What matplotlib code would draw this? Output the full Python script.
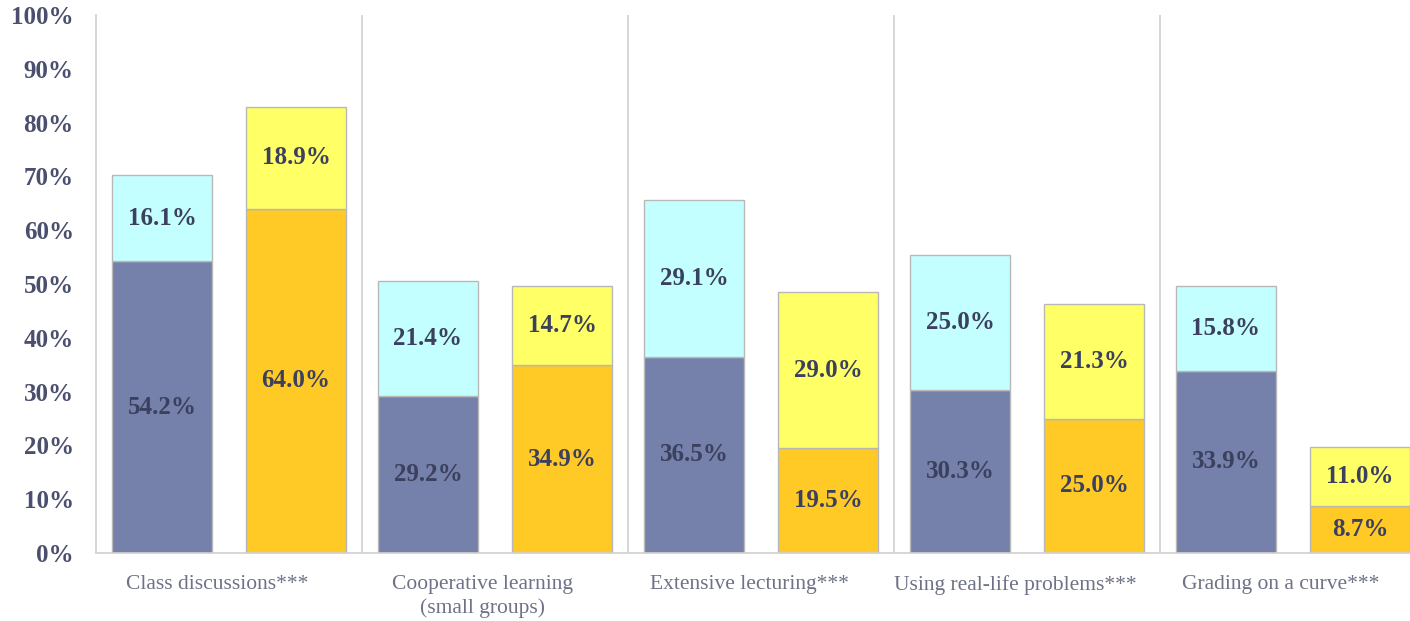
import numpy as np
import matplotlib
matplotlib.use("Agg")
import matplotlib.pyplot as plt
import matplotlib.transforms as mtransforms

# Survey categories and stacked shares (percent)
categories = ["Class discussions***", "Cooperative learning\n(small groups)",
              "Extensive lecturing***", "Using real-life problems***",
              "Grading on a curve***"]
a_base = [54.2, 29.2, 36.5, 30.3, 33.9]
a_top = [16.1, 21.4, 29.1, 25.0, 15.8]
b_base = [64.0, 34.9, 19.5, 25.0, 8.7]
b_top = [18.9, 14.7, 29.0, 21.3, 11.0]

serif = ["Liberation Serif", "DejaVu Serif"]
label_col = "#3b405e"

fig = plt.figure(figsize=(14.1, 6.21), dpi=100)
ax = fig.add_axes([96 / 1410, 68 / 621, 1330 / 1410, 538 / 621])

x = np.arange(len(categories))
w = 0.376
off = 0.252
edge = dict(edgecolor="#b8b8b8", linewidth=1)

ax.bar(x - off, a_base, w, color="#7580ab", **edge)
ax.bar(x - off, a_top, w, bottom=a_base, color="#c4ffff", **edge)
ax.bar(x + off, b_base, w, color="#ffc926", **edge)
ax.bar(x + off, b_top, w, bottom=b_base, color="#ffff66", **edge)

def put(xs, bottoms, vals):
    for xi, b, v in zip(xs, bottoms, vals):
        ax.text(xi, b + v / 2, f"{v:.1f}%", ha="center", va="center",
                fontsize=18, fontweight="bold", color=label_col, family=serif)

put(x - off, [0] * 5, a_base)
put(x - off, a_base, a_top)
put(x + off, [0] * 5, b_base)
put(x + off, b_base, b_top)

# group separators
for s in x[:-1] + 0.5:
    ax.plot([s, s], [0, 100], color="#d0d0d0", lw=1.2, zorder=0)

ax.set_xlim(-0.5, 4.5)
ax.set_ylim(0, 100)
ax.set_yticks(range(0, 101, 10))
ax.set_yticklabels([f"{v}%" for v in range(0, 101, 10)], fontsize=18,
                   fontweight="bold", color="#4a4f6e", family=serif)
ax.set_xticks(x)
ax.set_xticklabels(categories, fontsize=15.5, color="#6e7286", family=serif,
                   linespacing=1.25, va="top")
ax.tick_params(axis="both", length=0)
ax.tick_params(axis="y", pad=16)
ax.tick_params(axis="x", pad=16)

# nudge category labels slightly left
shift = mtransforms.ScaledTranslation(-12 / 100, 0, fig.dpi_scale_trans)
for lbl in ax.get_xticklabels():
    lbl.set_transform(lbl.get_transform() + shift)

for side in ["top", "right"]:
    ax.spines[side].set_visible(False)
ax.spines["left"].set_color("#d0d0d0")
ax.spines["bottom"].set_color("#d0d0d0")
ax.spines["left"].set_linewidth(1.2)
ax.spines["bottom"].set_linewidth(1.2)

fig.savefig("out.png", dpi=100, facecolor="white")
